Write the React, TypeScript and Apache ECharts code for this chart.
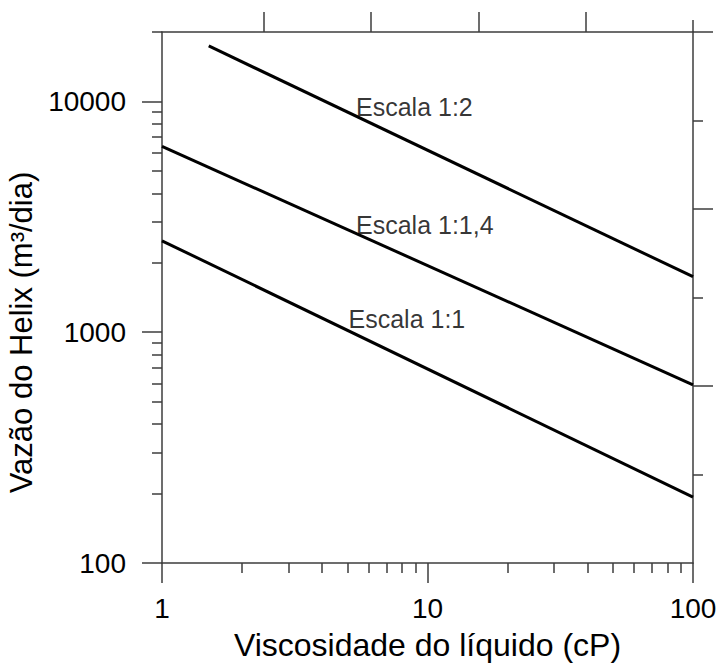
import React, { useEffect, useRef } from 'react';
import * as echarts from 'echarts';

// ---- data ----
const seriesNames = ['Escala 1:2', 'Escala 1:1,4', 'Escala 1:1'];
const scale12X = [1.5, 100];
const scale12Y = [17400, 1740];
const scale14X = [1, 100];
const scale14Y = [6390, 592];
const scale11X = [1, 100];
const scale11Y = [2490, 193];

// annotation anchors (data space)
const labelX = [5.38, 5.38, 5.04];
const labelY = [9480, 2925, 1146];

// tick values
const xMajor = [1, 10, 100];
const xMinor = [2, 3, 4, 5, 6, 7, 8, 9, 20, 30, 40, 50, 60, 70, 80, 90];
const yMajor = [100, 1000, 10000];
const yMinor = [200, 300, 400, 500, 600, 700, 800, 900, 2000, 3000, 4000, 5000, 6000, 7000, 8000, 9000, 20000];
const topTicks = [1, 2, 3, 4];
const topCorner = [5];
const rightMajor = [1, 2, 3];
const rightMinor = [0.5, 1.5, 2.5];

const FONT = '"Liberation Sans", Arial, Helvetica, sans-serif';

export default function App() {
  const ref = useRef<HTMLDivElement>(null);
  useEffect(() => {
    const chart = echarts.init(ref.current!, null, { renderer: 'svg' });
    const axisColor = '#3c3c3c';
    const ls = { color: axisColor, width: 1.5 };
    const lg = (v: number) => Math.log10(v);
    const off = { show: false };
    const overlay = (extra: any) => ({
      type: 'value',
      axisLine: { show: false, onZero: false },
      axisLabel: { show: false },
      splitLine: off,
      minorTick: off,
      minorSplitLine: off,
      ...extra,
    });
    const mk = (xs: number[], ys: number[], name: string) => ({
      type: 'line',
      name,
      xAxisIndex: 0,
      yAxisIndex: 0,
      data: xs.map((x, i) => [x, ys[i]]),
      symbol: 'none',
      silent: true,
      lineStyle: { color: '#000', width: 3 },
    });
    chart.setOption({
      animation: false,
      backgroundColor: '#fff',
      grid: { left: 162, right: 27, top: 32, bottom: 108, containLabel: false, outerBoundsMode: 'none' },
      xAxis: [
        {
          type: 'log',
          logBase: 10,
          min: 1,
          max: 100,
          position: 'bottom',
          axisLine: { show: true, onZero: false, lineStyle: ls },
          axisTick: { show: true, length: 20, lineStyle: ls },
          axisLabel: {
            fontSize: 28,
            margin: 31,
            color: '#000',
            fontFamily: FONT,
            formatter: (v: number) => (xMajor.includes(v) ? String(v) : ''),
          },
          splitLine: off,
          minorTick: off,
          name: 'Viscosidade do líquido (cP)',
          nameLocation: 'middle',
          nameGap: 66,
          nameTextStyle: { fontSize: 32, color: '#000', fontFamily: FONT },
        },
        overlay({
          min: 0,
          max: 2,
          position: 'bottom',
          axisTick: { show: true, length: 10, customValues: xMinor.map(lg), lineStyle: ls },
        }),
        overlay({
          min: 0.05,
          max: 5,
          position: 'top',
          axisLine: { show: true, onZero: false, lineStyle: ls },
          axisTick: { show: true, length: 20, customValues: topTicks, lineStyle: ls },
        }),
        overlay({
          min: 0.05,
          max: 5,
          position: 'top',
          axisTick: { show: true, length: 12, customValues: topCorner, lineStyle: ls },
        }),
      ],
      yAxis: [
        {
          type: 'log',
          logBase: 10,
          min: 100,
          max: 20000,
          position: 'left',
          axisLine: { show: true, onZero: false, lineStyle: ls },
          axisTick: off,
          axisLabel: {
            fontSize: 28,
            margin: 36,
            color: '#000',
            fontFamily: FONT,
            formatter: (v: number) => (yMajor.includes(Math.round(v)) ? String(Math.round(v)) : ''),
          },
          splitLine: off,
          minorTick: off,
          name: 'Vazão do Helix (m³/dia)',
          nameLocation: 'middle',
          nameGap: 120,
          nameTextStyle: { fontSize: 31, color: '#000', fontFamily: FONT, padding: [0, 70, 0, 0] },
        },
        overlay({
          min: 2,
          max: lg(20000),
          position: 'left',
          axisTick: { show: true, length: 20, customValues: yMajor.map(lg), lineStyle: ls },
        }),
        overlay({
          min: 2,
          max: lg(20000),
          position: 'left',
          axisTick: { show: true, length: 10, customValues: yMinor.map(lg), lineStyle: ls },
        }),
        overlay({
          min: 0,
          max: 3,
          position: 'right',
          axisLine: { show: true, onZero: false, lineStyle: ls },
          axisTick: { show: true, length: 20, customValues: rightMajor, lineStyle: ls },
        }),
        overlay({
          min: 0,
          max: 3,
          position: 'right',
          axisTick: { show: true, length: 10, customValues: rightMinor, lineStyle: ls },
        }),
      ],
      series: [
        mk(scale12X, scale12Y, seriesNames[0]),
        mk(scale14X, scale14Y, seriesNames[1]),
        mk(scale11X, scale11Y, seriesNames[2]),
        {
          type: 'scatter',
          xAxisIndex: 0,
          yAxisIndex: 0,
          symbolSize: 0,
          silent: true,
          data: labelX.map((x, i) => ({ value: [x, labelY[i]], name: seriesNames[i] })),
          label: {
            show: true,
            position: 'right',
            distance: 0,
            formatter: '{b}',
            fontSize: 25,
            color: '#000',
            fontFamily: FONT,
          },
        },
      ],
    });
    return () => chart.dispose();
  }, []);
  return (
    <div
      ref={ref}
      style={{ position: 'absolute', left: 0, top: 0, width: 720, height: 671 }}
    />
  );
}
